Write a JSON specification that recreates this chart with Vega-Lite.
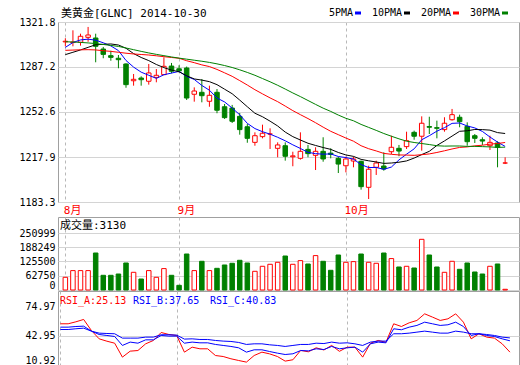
{
  "$schema": "https://vega.github.io/schema/vega-lite/v6.json",
  "background": "#ffffff",
  "padding": {"left": 18, "top": 7, "right": 1, "bottom": 0},
  "bounds": "flush",
  "spacing": 15,
  "config": {
    "view": {"stroke": "#a0a0a0", "strokeWidth": 1},
    "axis": {"labelFont": "DejaVu Sans Mono", "labelFontSize": 10, "labelColor": "#000000", "ticks": false, "domain": false, "labelPadding": 3, "gridColor": "#d4d4d4", "gridWidth": 1},
    "legend": {"labelFont": "DejaVu Sans Mono", "labelFontSize": 10},
    "title": {"font": "DejaVu Sans Mono, Noto Sans CJK SC", "fontSize": 11, "fontWeight": "normal", "color": "#000000", "anchor": "start", "frame": "group"}
  },
  "datasets": {
    "bars": [
      {"i":1,"o":1306.5,"h":1309.3,"l":1303.1,"c":1307.0,"v":55900,"m5":1302.3,"m10":1296.7,"m20":1300.0,"m30":1306.6,"ra":56.4,"rb":52.7,"rc":50.1},
      {"i":2,"o":1306.0,"h":1315.4,"l":1303.1,"c":1306.4,"v":85400,"m5":1306.0,"m10":1298.5,"m20":1300.2,"m30":1306.4,"ra":56.4,"rb":52.7,"rc":50.1},
      {"i":3,"o":1306.2,"h":1312.8,"l":1303.6,"c":1310.8,"v":85400,"m5":1308.0,"m10":1300.3,"m20":1300.4,"m30":1306.1,"ra":58.6,"rb":53.4,"rc":50.9},
      {"i":4,"o":1310.0,"h":1318.0,"l":1306.6,"c":1311.8,"v":85400,"m5":1308.6,"m10":1302.3,"m20":1300.5,"m30":1305.7,"ra":61.2,"rb":53.8,"rc":51.6},
      {"i":5,"o":1309.5,"h":1312.8,"l":1290.8,"c":1303.1,"v":162900,"m5":1307.8,"m10":1304.3,"m20":1300.3,"m30":1305.2,"ra":49.0,"rb":48.3,"rc":48.3},
      {"i":6,"o":1301.0,"h":1302.6,"l":1293.9,"c":1296.9,"v":64700,"m5":1305.8,"m10":1304.6,"m20":1299.7,"m30":1304.5,"ra":39.8,"rb":44.6,"rc":46.1},
      {"i":7,"o":1295.9,"h":1299.7,"l":1292.0,"c":1294.6,"v":64700,"m5":1303.4,"m10":1304.9,"m20":1299.2,"m30":1303.8,"ra":37.2,"rb":43.5,"rc":45.7},
      {"i":8,"o":1293.9,"h":1296.4,"l":1286.2,"c":1292.8,"v":70400,"m5":1299.8,"m10":1304.1,"m20":1298.5,"m30":1303.0,"ra":35.0,"rb":42.4,"rc":45.4},
      {"i":9,"o":1289.5,"h":1290.0,"l":1271.2,"c":1273.6,"v":118900,"m5":1292.2,"m10":1301.6,"m20":1297.8,"m30":1301.8,"ra":19.6,"rb":32.5,"rc":40.6},
      {"i":10,"o":1276.6,"h":1281.8,"l":1272.8,"c":1277.7,"v":77900,"m5":1287.1,"m10":1297.5,"m20":1297.2,"m30":1300.5,"ra":26.2,"rb":36.2,"rc":40.6},
      {"i":11,"o":1278.7,"h":1280.0,"l":1272.8,"c":1277.4,"v":48400,"m5":1283.2,"m10":1294.5,"m20":1296.8,"m30":1299.2,"ra":26.9,"rb":35.0,"rc":40.6},
      {"i":12,"o":1276.2,"h":1289.5,"l":1273.6,"c":1282.6,"v":85400,"m5":1280.8,"m10":1292.1,"m20":1296.4,"m30":1298.0,"ra":34.3,"rb":38.7,"rc":41.7},
      {"i":13,"o":1279.2,"h":1285.6,"l":1275.4,"c":1280.8,"v":55900,"m5":1278.4,"m10":1289.1,"m20":1295.8,"m30":1296.9,"ra":38.0,"rb":38.7,"rc":41.7},
      {"i":14,"o":1281.3,"h":1294.6,"l":1281.3,"c":1287.7,"v":94200,"m5":1281.2,"m10":1286.7,"m20":1295.1,"m30":1295.9,"ra":46.8,"rb":43.5,"rc":44.3},
      {"i":15,"o":1287.9,"h":1290.3,"l":1282.3,"c":1283.9,"v":64700,"m5":1282.5,"m10":1284.8,"m20":1294.5,"m30":1294.9,"ra":44.6,"rb":42.8,"rc":44.3},
      {"i":16,"o":1285.8,"h":1288.5,"l":1283.0,"c":1284.2,"v":20700,"m5":1283.8,"m10":1283.5,"m20":1293.9,"m30":1294.0,"ra":43.5,"rb":42.8,"rc":43.9},
      {"i":17,"o":1286.4,"h":1287.5,"l":1261.8,"c":1263.3,"v":158500,"m5":1280.0,"m10":1280.4,"m20":1292.0,"m30":1293.2,"ra":25.1,"rb":35.0,"rc":39.5},
      {"i":18,"o":1266.2,"h":1271.5,"l":1260.5,"c":1268.7,"v":85400,"m5":1277.6,"m10":1278.0,"m20":1290.5,"m30":1292.4,"ra":30.6,"rb":36.2,"rc":39.8},
      {"i":19,"o":1267.7,"h":1277.9,"l":1260.0,"c":1265.1,"v":126400,"m5":1273.0,"m10":1277.1,"m20":1288.8,"m30":1291.6,"ra":28.8,"rb":35.4,"rc":39.1},
      {"i":20,"o":1260.8,"h":1272.8,"l":1256.6,"c":1265.4,"v":85400,"m5":1269.3,"m10":1275.9,"m20":1287.5,"m30":1290.7,"ra":28.8,"rb":35.4,"rc":39.1},
      {"i":21,"o":1267.7,"h":1270.2,"l":1251.6,"c":1253.9,"v":95500,"m5":1263.3,"m10":1273.6,"m20":1285.3,"m30":1289.6,"ra":21.4,"rb":33.6,"rc":38.0},
      {"i":22,"o":1256.6,"h":1258.7,"l":1247.2,"c":1248.2,"v":110100,"m5":1260.3,"m10":1270.1,"m20":1282.7,"m30":1288.3,"ra":20.3,"rb":32.5,"rc":37.3},
      {"i":23,"o":1255.6,"h":1258.0,"l":1244.1,"c":1245.4,"v":117600,"m5":1255.6,"m10":1266.6,"m20":1280.0,"m30":1286.8,"ra":17.8,"rb":31.4,"rc":36.9},
      {"i":24,"o":1249.2,"h":1251.8,"l":1235.1,"c":1239.0,"v":130800,"m5":1250.4,"m10":1261.7,"m20":1276.7,"m30":1285.0,"ra":15.9,"rb":29.9,"rc":35.8},
      {"i":25,"o":1241.2,"h":1243.3,"l":1228.9,"c":1232.3,"v":118900,"m5":1243.8,"m10":1256.6,"m20":1273.3,"m30":1283.0,"ra":14.1,"rb":25.1,"rc":33.6},
      {"i":26,"o":1229.2,"h":1236.9,"l":1226.6,"c":1234.3,"v":82300,"m5":1239.8,"m10":1251.6,"m20":1269.7,"m30":1280.8,"ra":21.4,"rb":27.7,"rc":34.3},
      {"i":27,"o":1233.6,"h":1242.8,"l":1232.3,"c":1236.2,"v":104400,"m5":1237.4,"m10":1248.9,"m20":1266.5,"m30":1278.3,"ra":25.1,"rb":27.7,"rc":34.3},
      {"i":28,"o":1235.6,"h":1240.0,"l":1224.1,"c":1235.6,"v":113200,"m5":1235.5,"m10":1245.5,"m20":1263.4,"m30":1275.8,"ra":23.2,"rb":25.8,"rc":33.2},
      {"i":29,"o":1224.6,"h":1229.2,"l":1217.7,"c":1227.2,"v":122000,"m5":1233.1,"m10":1241.8,"m20":1260.5,"m30":1273.1,"ra":20.3,"rb":24.0,"rc":32.5},
      {"i":30,"o":1226.6,"h":1229.2,"l":1215.1,"c":1218.5,"v":149700,"m5":1230.4,"m10":1237.1,"m20":1257.1,"m30":1270.2,"ra":15.2,"rb":22.5,"rc":31.4},
      {"i":31,"o":1218.1,"h":1222.0,"l":1210.8,"c":1218.8,"v":113200,"m5":1227.3,"m10":1233.6,"m20":1253.6,"m30":1267.2,"ra":16.7,"rb":23.3,"rc":32.5},
      {"i":32,"o":1216.9,"h":1236.9,"l":1215.9,"c":1222.3,"v":129400,"m5":1224.5,"m10":1231.0,"m20":1250.5,"m30":1264.4,"ra":27.0,"rb":26.9,"rc":33.6},
      {"i":33,"o":1223.8,"h":1227.2,"l":1217.7,"c":1220.5,"v":114500,"m5":1221.5,"m10":1228.5,"m20":1247.5,"m30":1261.4,"ra":25.5,"rb":26.5,"rc":33.6},
      {"i":34,"o":1219.2,"h":1225.4,"l":1207.9,"c":1222.3,"v":151500,"m5":1220.5,"m10":1226.8,"m20":1244.3,"m30":1258.4,"ra":29.9,"rb":28.8,"rc":35.0},
      {"i":35,"o":1222.3,"h":1233.1,"l":1214.3,"c":1216.4,"v":126400,"m5":1220.1,"m10":1225.2,"m20":1240.9,"m30":1255.5,"ra":27.5,"rb":28.0,"rc":34.6},
      {"i":36,"o":1220.9,"h":1224.6,"l":1216.9,"c":1219.9,"v":86700,"m5":1220.3,"m10":1223.8,"m20":1237.7,"m30":1253.0,"ra":32.5,"rb":31.4,"rc":36.2},
      {"i":37,"o":1216.9,"h":1218.2,"l":1205.6,"c":1212.5,"v":154100,"m5":1218.3,"m10":1221.4,"m20":1235.1,"m30":1250.2,"ra":26.0,"rb":28.8,"rc":35.0},
      {"i":38,"o":1211.2,"h":1218.2,"l":1206.1,"c":1216.4,"v":122000,"m5":1217.5,"m10":1219.5,"m20":1232.5,"m30":1247.7,"ra":30.6,"rb":29.9,"rc":35.4},
      {"i":39,"o":1214.8,"h":1218.2,"l":1210.0,"c":1216.4,"v":125000,"m5":1216.3,"m10":1218.4,"m20":1230.1,"m30":1245.8,"ra":30.6,"rb":30.6,"rc":34.3},
      {"i":40,"o":1214.6,"h":1215.1,"l":1192.8,"c":1195.1,"v":158500,"m5":1212.1,"m10":1216.1,"m20":1226.6,"m30":1243.0,"ra":19.6,"rb":25.1,"rc":32.5},
      {"i":41,"o":1194.6,"h":1211.2,"l":1185.6,"c":1208.5,"v":122000,"m5":1209.8,"m10":1215.0,"m20":1224.3,"m30":1240.7,"ra":35.0,"rb":34.3,"rc":36.2},
      {"i":42,"o":1210.0,"h":1215.1,"l":1204.1,"c":1213.3,"v":117600,"m5":1209.9,"m10":1214.1,"m20":1222.6,"m30":1238.4,"ra":38.0,"rb":36.2,"rc":37.3},
      {"i":43,"o":1211.0,"h":1221.5,"l":1207.4,"c":1208.7,"v":162900,"m5":1208.4,"m10":1213.0,"m20":1220.7,"m30":1236.0,"ra":36.0,"rb":35.4,"rc":37.3},
      {"i":44,"o":1222.0,"h":1234.3,"l":1220.2,"c":1225.4,"v":138300,"m5":1210.2,"m10":1213.3,"m20":1220.0,"m30":1233.9,"ra":56.4,"rb":50.9,"rc":45.4},
      {"i":45,"o":1224.6,"h":1227.2,"l":1218.5,"c":1222.5,"v":101300,"m5":1215.7,"m10":1213.9,"m20":1219.5,"m30":1231.9,"ra":53.4,"rb":49.8,"rc":45.4},
      {"i":46,"o":1225.9,"h":1237.4,"l":1224.1,"c":1230.5,"v":104400,"m5":1220.1,"m10":1214.9,"m20":1219.4,"m30":1230.1,"ra":57.5,"rb":52.7,"rc":46.1},
      {"i":47,"o":1236.9,"h":1238.2,"l":1231.2,"c":1233.9,"v":96900,"m5":1224.2,"m10":1217.1,"m20":1219.2,"m30":1229.1,"ra":60.1,"rb":54.6,"rc":47.2},
      {"i":48,"o":1233.9,"h":1249.2,"l":1222.8,"c":1243.9,"v":223200,"m5":1231.2,"m10":1219.8,"m20":1219.7,"m30":1228.3,"ra":67.4,"rb":58.2,"rc":48.3},
      {"i":49,"o":1241.4,"h":1248.9,"l":1235.6,"c":1240.8,"v":154100,"m5":1234.3,"m10":1222.3,"m20":1220.3,"m30":1227.5,"ra":63.8,"rb":56.4,"rc":47.2},
      {"i":50,"o":1240.5,"h":1245.9,"l":1232.3,"c":1240.0,"v":101300,"m5":1237.8,"m10":1226.8,"m20":1221.4,"m30":1226.6,"ra":60.1,"rb":54.6,"rc":46.1},
      {"i":51,"o":1239.0,"h":1248.5,"l":1237.4,"c":1243.9,"v":77900,"m5":1240.5,"m10":1230.3,"m20":1222.7,"m30":1226.3,"ra":61.9,"rb":55.3,"rc":46.1},
      {"i":52,"o":1246.6,"h":1254.9,"l":1245.9,"c":1250.5,"v":126400,"m5":1243.8,"m10":1234.0,"m20":1224.1,"m30":1226.4,"ra":67.4,"rb":58.2,"rc":48.3},
      {"i":53,"o":1248.5,"h":1250.5,"l":1240.8,"c":1245.1,"v":91100,"m5":1244.1,"m10":1237.7,"m20":1225.3,"m30":1226.4,"ra":58.2,"rb":53.4,"rc":47.2},
      {"i":54,"o":1241.5,"h":1244.6,"l":1226.6,"c":1229.7,"v":118900,"m5":1241.8,"m10":1238.1,"m20":1225.7,"m30":1226.1,"ra":39.8,"rb":43.5,"rc":45.4},
      {"i":55,"o":1234.3,"h":1235.6,"l":1228.7,"c":1232.3,"v":79300,"m5":1240.3,"m10":1239.1,"m20":1226.5,"m30":1226.1,"ra":45.4,"rb":45.4,"rc":45.4},
      {"i":56,"o":1231.2,"h":1233.1,"l":1227.2,"c":1230.2,"v":70400,"m5":1237.6,"m10":1239.0,"m20":1227.0,"m30":1225.9,"ra":41.7,"rb":43.5,"rc":44.6},
      {"i":57,"o":1226.6,"h":1234.3,"l":1223.3,"c":1229.2,"v":104400,"m5":1233.3,"m10":1238.6,"m20":1227.8,"m30":1225.7,"ra":40.6,"rb":42.4,"rc":43.5},
      {"i":58,"o":1228.7,"h":1230.0,"l":1210.0,"c":1225.4,"v":114500,"m5":1229.4,"m10":1236.7,"m20":1228.3,"m30":1225.3,"ra":34.3,"rb":39.8,"rc":41.7},
      {"i":59,"o":1213.3,"h":1217.7,"l":1212.5,"c":1213.3,"v":3130,"m5":1226.1,"m10":1236.0,"m20":1229.1,"m30":1225.5,"ra":25.13,"rb":37.65,"rc":40.83}
    ]
  },
  "resolve": {"scale": {"color": "independent", "stroke": "independent", "y": "independent"}},
  "vconcat": [
    {
      "width": 461,
      "height": 180,
      "title": {"text": "美黄金[GLNC] 2014-10-30", "dx": 3, "baseline": "top", "offset": -11},
      "data": {"name": "bars"},
      "encoding": {
        "x": {"field": "i", "type": "quantitative", "scale": {"domain": [0.69, 60.17], "nice": false, "zero": false},
          "axis": {"title": null, "values": [1, 16, 38], "labelExpr": "datum.value == 1 ? '8月' : datum.value == 16 ? '9月' : '10月'", "labelColor": "#ff0000", "labelAlign": "left", "labelBaseline": "top", "labelOffset": -2, "labelPadding": 2, "labelFont": "DejaVu Sans Mono, Noto Sans CJK SC", "labelFontSize": 11, "labelFlush": false, "labelBound": false, "labelOverlap": false, "grid": true, "gridDash": [3, 3], "gridColor": "#b8b8b8"}}
      },
      "layer": [
        {
          "mark": {"type": "rule", "strokeWidth": 1},
          "encoding": {
            "y": {"field": "l", "type": "quantitative", "scale": {"domain": [1183.3, 1321.8], "nice": false, "zero": false},
              "axis": {"title": null, "values": [1183.3, 1200.6, 1217.9, 1235.2, 1252.6, 1269.9, 1287.2, 1304.5, 1321.8], "format": ".1f", "grid": true, "labelFlush": false, "labelOverlap": false}},
            "y2": {"field": "h"},
            "stroke": {"condition": {"test": "datum.c >= datum.o", "value": "#ff0000"}, "value": "#008000"}
          }
        },
        {
          "mark": {"type": "bar", "width": 4.5, "strokeWidth": 1},
          "encoding": {
            "y": {"field": "o", "type": "quantitative", "scale": {"domain": [1183.3, 1321.8], "nice": false, "zero": false}},
            "y2": {"field": "c"},
            "fill": {"condition": {"test": "datum.c >= datum.o", "value": "#ffffff"}, "value": "#008000"},
            "stroke": {"condition": {"test": "datum.c >= datum.o", "value": "#ff0000"}, "value": "#008000"}
          }
        },
        {
          "transform": [{"fold": ["m5", "m10", "m20", "m30"], "as": ["ma", "val"]}],
          "mark": {"type": "line", "strokeWidth": 1},
          "encoding": {
            "y": {"field": "val", "type": "quantitative", "scale": {"domain": [1183.3, 1321.8], "nice": false, "zero": false}},
            "color": {"field": "ma", "type": "nominal",
              "scale": {"domain": ["m5", "m10", "m20", "m30"], "range": ["#0000ff", "#000000", "#ff0000", "#008000"]},
              "legend": {"orient": "none", "legendX": 295, "legendY": -14, "direction": "horizontal", "title": null, "padding": 0,
                "labelExpr": "datum.value == 'm5' ? '5PMA' : datum.value == 'm10' ? '10PMA' : datum.value == 'm20' ? '20PMA' : '30PMA'",
                "symbolType": "stroke", "symbolSize": 36, "symbolStrokeWidth": 3, "labelAlign": "right", "labelOffset": -10, "columnPadding": 4,
                "labelColor": "#000000", "labelFont": "DejaVu Sans Mono", "labelFontSize": 10}}
          }
        }
      ]
    },
    {
      "bounds": "flush",
      "spacing": 1,
      "vconcat": [
        {
          "width": 461,
          "height": 73,
          "title": {"text": "成交量:3130", "dx": 2, "baseline": "top", "offset": -14},
          "data": {"name": "bars"},
          "mark": {"type": "bar", "width": 4.5, "strokeWidth": 1},
          "encoding": {
            "x": {"field": "i", "type": "quantitative", "scale": {"domain": [0.69, 60.17], "nice": false, "zero": false},
              "axis": {"title": null, "values": [1, 16, 38], "labels": false, "grid": true, "gridDash": [3, 3], "gridColor": "#b8b8b8"}},
            "y": {"field": "v", "type": "quantitative", "scale": {"domain": [0, 321455], "nice": false},
              "axis": {"title": null, "values": [0, 62750, 125500, 188249, 250999], "format": "d", "grid": true, "labelFlush": true, "labelOverlap": false}},
            "fill": {"condition": {"test": "datum.c >= datum.o", "value": "#ffffff"}, "value": "#008000"},
            "stroke": {"condition": {"test": "datum.c >= datum.o", "value": "#ff0000"}, "value": "#008000"}
          }
        },
        {
          "width": 461,
          "height": 74,
          "data": {"name": "bars"},
          "transform": [{"fold": ["ra", "rb", "rc"], "as": ["rsi", "val"]}],
          "mark": {"type": "line", "strokeWidth": 1},
          "encoding": {
            "x": {"field": "i", "type": "quantitative", "scale": {"domain": [0.69, 60.17], "nice": false, "zero": false},
              "axis": {"title": null, "values": [1, 16, 38], "labels": false, "grid": true, "gridDash": [3, 3], "gridColor": "#b8b8b8"}},
            "y": {"field": "val", "type": "quantitative", "scale": {"domain": [10.92, 92.6], "nice": false, "zero": false},
              "axis": {"title": null, "values": [10.92, 42.95, 74.97], "format": ".2f", "grid": true, "gridOpacity": {"condition": {"test": "datum.value == 42.95", "value": 1}, "value": 0}, "labelFlush": true, "labelOverlap": false}},
            "stroke": {"field": "rsi", "type": "nominal",
              "scale": {"domain": ["ra", "rb", "rc"], "range": ["#ff0000", "#0000ff", "#0000ff"]},
              "legend": {"orient": "none", "legendX": 2, "legendY": 79, "direction": "horizontal", "padding": 0,
                "title": "RSI_A:25.13", "titleOrient": "left", "titleColor": "#ff0000", "titleFont": "DejaVu Sans Mono", "titleFontSize": 10, "titleFontWeight": "normal", "titlePadding": -4,
                "values": ["rb", "rc"], "labelExpr": "datum.value == 'rb' ? 'RSI_B:37.65' : 'RSI_C:40.83'",
                "labelColor": "#0000ff", "labelFont": "DejaVu Sans Mono", "labelFontSize": 10, "symbolSize": 0, "symbolOpacity": 0, "labelOffset": 0, "columnPadding": -10}}
          }
        }
      ]
    }
  ]
}
